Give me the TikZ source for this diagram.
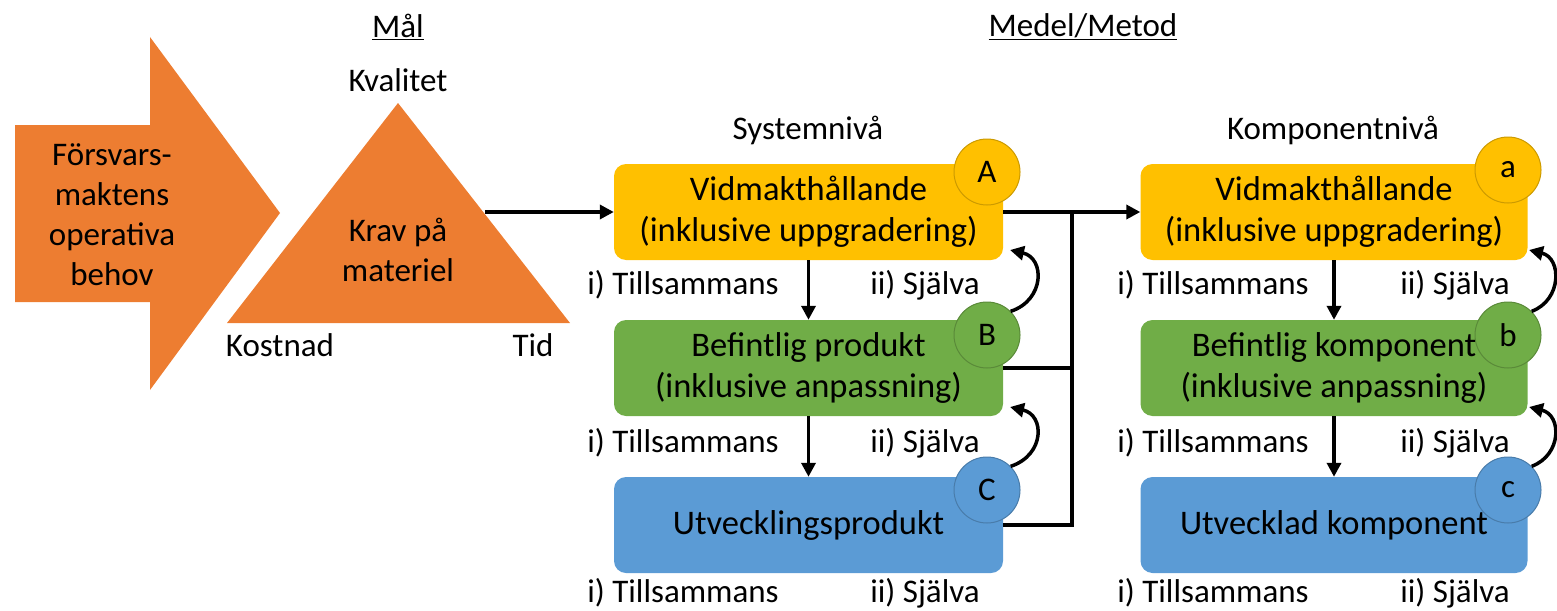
\documentclass[tikz,border=0pt]{standalone}
\usepackage{fontspec}
\setmainfont{Carlito}
\usetikzlibrary{arrows.meta,shapes.geometric}
\definecolor{org}{RGB}{237,125,49}
\definecolor{yel}{RGB}{255,192,0}
\definecolor{grn}{RGB}{112,173,71}
\definecolor{blu}{RGB}{91,155,213}
\tikzset{
  txt/.style={font=\fontsize{33}{40}\selectfont, align=center, inner sep=0pt},
  btxt/.style={font=\fontsize{34.5}{41}\selectfont, align=center, inner sep=0pt},
  stepbox/.style={rounded corners=12pt, minimum width=389pt, minimum height=96pt, inner sep=0pt},
  circ/.style={circle, minimum size=66pt, inner sep=0pt, line width=1pt, font=\fontsize{33}{40}\selectfont},
  conn/.style={line width=3.5pt, -{Triangle[length=14pt,width=14pt]}},
  plain/.style={line width=3.5pt},
}
\begin{document}
\begin{tikzpicture}[x=1pt,y=-1pt]
\useasboundingbox (0,0) rectangle (1557,610);
% big arrow
\fill[org] (15,125) -- (150,125) -- (150,37) -- (280,213) -- (150,390) -- (150,302) -- (15,302) -- cycle;
\node[txt] (need) at (112,215) {Försvars-\\maktens\\operativa\\behov};
% triangle
\fill[org] (398,103) -- (570,323) -- (227,323) -- cycle;
\node[txt] (krav) at (398,250) {Krav på\\materiel};
\node[txt] (kval) at (398,80) {Kvalitet};
\node[txt] (kost) at (280,345) {Kostnad};
\node[txt] (tid) at (533,345) {Tid};
\node[txt] (mal) at (398,27) {\underline{Mål}};
\node[txt] (medel) at (1083,27) {\underline{Medel/Metod}};
\node[txt] (sys) at (808,130) {Systemnivå};
\node[txt] (komp) at (1333,130) {Komponentnivå};
\coordinate (triR) at (485,212);
% system level boxes
\node[stepbox, fill=yel] (A) at (808.5,212) {};
\node[stepbox, fill=grn] (B) at (808.5,368) {};
\node[stepbox, fill=blu] (C) at (808.5,525) {};
\node[circ, fill=yel, draw=yel!80!black] (cA) at (987,172) {A};
\node[circ, fill=grn, draw=grn!80!black] (cB) at (987,335) {B};
\node[circ, fill=blu, draw=blu!80!black] (cC) at (987,490) {C};
\node[btxt] at (A) {Vidmakthållande\\(inklusive uppgradering)};
\node[btxt] at (B) {Befintlig produkt\\(inklusive anpassning)};
\node[btxt] at (C) {Utvecklingsprodukt};
% component level boxes
\node[stepbox, fill=yel, minimum width=387pt] (a) at (1334,212) {};
\node[stepbox, fill=grn, minimum width=387pt] (b) at (1334,368) {};
\node[stepbox, fill=blu, minimum width=387pt] (c) at (1334,525) {};
\node[circ, fill=yel, draw=yel!80!black] (ca) at (1508,170) {a};
\node[circ, fill=grn, draw=grn!80!black] (cb) at (1508,335) {b};
\node[circ, fill=blu, draw=blu!80!black] (cc) at (1508,490) {c};
\node[btxt] at (a) {Vidmakthållande\\(inklusive uppgradering)};
\node[btxt] at (b) {Befintlig komponent\\(inklusive anpassning)};
\node[btxt] at (c) {Utvecklad komponent};
% labels
\foreach \y in {285,443,593} {
  \node[txt] at (683,\y) {i) Tillsammans};
  \node[txt] at (925,\y) {ii) Själva};
  \node[txt] at (1213,\y) {i) Tillsammans};
  \node[txt] at (1455,\y) {ii) Själva};
}
% connectors
\coordinate (J) at (1072,212);
\draw[conn] (triR) -- (A.west);
\draw[conn] (A.east) -- (a.west);
\draw[plain] (B.east) -- (J |- B.east);
\draw[plain] (C.east) -| (J);
\draw[conn] (A.south) -- (B.north);
\draw[conn] (B.south) -- (C.north);
\draw[conn] (a.south) -- (b.north);
\draw[conn] (b.south) -- (c.north);
\draw[conn] (cB.north east) .. controls (1045,300) and (1045,258) .. (1010,250);
\draw[conn] (cC.north east) .. controls (1045,455) and (1045,415) .. (1010,407);
\draw[conn] (cb.north east) .. controls (1562,300) and (1562,258) .. (1529,250);
\draw[conn] (cc.north east) .. controls (1562,455) and (1562,415) .. (1529,407);
\end{tikzpicture}
\end{document}
